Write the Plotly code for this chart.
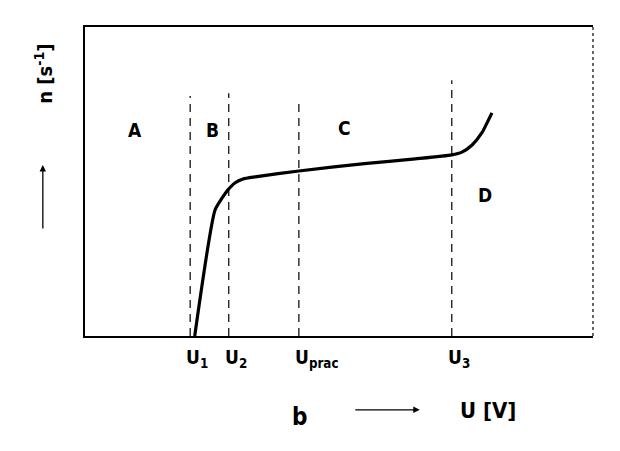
import plotly.graph_objects as go

# Characteristic curve (normalized units: x 0-100, y 0-100)
curve_x = [21.6, 25.6, 27.0, 28.1, 29.5, 31.1, 33.5, 42.1, 55.0, 65.0, 72.2, 74.2, 76.2, 78.1, 80.1]
curve_y = [0.0, 40.8, 44.7, 47.2, 49.5, 50.8, 51.5, 53.4, 55.8, 57.3, 58.6, 59.5, 61.8, 65.7, 72.2]

# Threshold voltages (dashed lines)
thr_x = [20.7, 28.3, 42.1, 72.2]
thr_top = [77.7, 78.6, 75.7, 82.8]
thr_labels = ["U<sub>1</sub>", "U<sub>2</sub>", "U<sub>prac</sub>", "U<sub>3</sub>"]

# Region labels
reg_names = ["A", "B", "C", "D"]
reg_x = [9.8, 25.0, 51.0, 78.7]
reg_y = [66.7, 66.7, 67.3, 45.6]

FONT = "DejaVu Sans Condensed, Liberation Sans Narrow, DejaVu Sans, sans-serif"

fig = go.Figure()

for xv, top in zip(thr_x, thr_top):
    fig.add_trace(go.Scatter(x=[xv, xv], y=[0, top], mode="lines",
                             line=dict(color="black", width=1.2, dash="8px,6px"),
                             hoverinfo="skip", showlegend=False))

fig.add_trace(go.Scatter(x=curve_x, y=curve_y, mode="lines",
                         line=dict(color="black", width=3.2, shape="spline", smoothing=0.6),
                         showlegend=False))

for name, xv, yv in zip(reg_names, reg_x, reg_y):
    fig.add_annotation(x=xv, y=yv, text="<b>%s</b>" % name, showarrow=False,
                       xanchor="center", yanchor="middle",
                       font=dict(family=FONT, size=19, color="black"))

for lab, xv in zip(thr_labels, thr_x):
    fig.add_annotation(x=xv, y=0, yref="y", text="<b>%s</b>" % lab, showarrow=False,
                       xanchor="left", yanchor="top", xshift=-6, yshift=-8,
                       font=dict(family=FONT, size=19, color="black"))

# x axis title: b ——→ U [V]
fig.add_annotation(xref="paper", yref="paper", x=0.423, y=-0.262, text="<b>b</b>",
                   showarrow=False, xanchor="center", yanchor="middle",
                   font=dict(family=FONT, size=24, color="black"))
fig.add_annotation(xref="paper", yref="paper", x=0.659, y=-0.239,
                   ax=-66, ay=0, text="", showarrow=True, arrowhead=2,
                   arrowsize=1, arrowwidth=1.3, arrowcolor="black")
fig.add_annotation(xref="paper", yref="paper", x=0.793, y=-0.24, text="<b>U [V]</b>",
                   showarrow=False, xanchor="center", yanchor="middle",
                   font=dict(family=FONT, size=22, color="black"))

# y axis title: ——→ n [s^-1] rotated
fig.add_annotation(xref="paper", yref="paper", x=-0.083, y=0.553,
                   ax=0, ay=65, text="", showarrow=True, arrowhead=2,
                   arrowsize=1, arrowwidth=1.3, arrowcolor="black")
fig.add_annotation(xref="paper", yref="paper", x=-0.08, y=0.85, text="<b>n [s<sup>-1</sup>]</b>",
                   textangle=-90, showarrow=False, xanchor="center", yanchor="middle",
                   font=dict(family=FONT, size=20, color="black"))

# dotted right border
fig.add_shape(type="line", xref="paper", yref="paper", x0=1, x1=1, y0=0, y1=1,
              line=dict(color="black", width=1.2, dash="dot"))

fig.update_layout(
    width=620, height=451,
    margin=dict(l=77, r=35, t=19, b=123),
    paper_bgcolor="white", plot_bgcolor="white",
    xaxis=dict(range=[0, 100], showgrid=False, zeroline=False, showticklabels=False,
               ticks="", showline=True, mirror=True, linecolor="black", linewidth=2),
    yaxis=dict(range=[0, 100], showgrid=False, zeroline=False, showticklabels=False,
               ticks="", showline=True, linecolor="black", linewidth=2),
)

fig.write_html("out.html")
